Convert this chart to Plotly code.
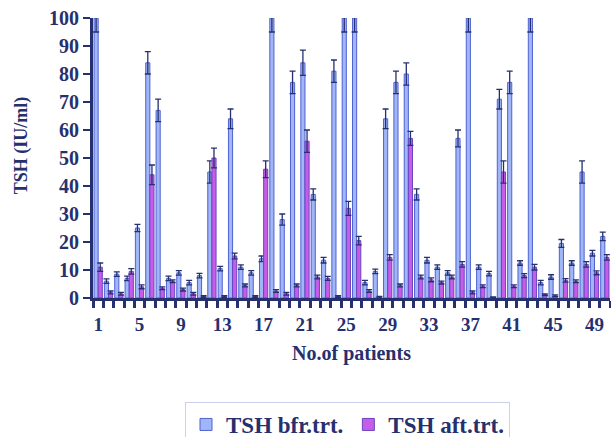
import plotly.graph_objects as go

patients = list(range(1, 51))
tick_labels = [1, 5, 9, 13, 17, 21, 25, 29, 33, 37, 41, 45, 49]

tsh_before = [100, 6, 8.5, 7, 25, 84, 67, 7, 9, 5.5,
              8, 45, 10.5, 64, 11, 9, 14, 100, 28, 77,
              84, 37, 13.5, 81, 100, 100, 5.5, 9.5, 64, 77,
              80, 37, 13.5, 11, 9, 57, 100, 11, 8.7, 71,
              77, 12.5, 100, 5.5, 7.5, 19.5, 12.5, 45, 16, 22]

tsh_after = [11, 2, 1.5, 9.5, 4, 44, 3.5, 6, 3, 1.5,
             0.5, 50, 0.5, 15, 4.5, 0.5, 46, 2.5, 1.5, 4.5,
             56, 7.5, 7, 0.5, 32, 20.5, 2.5, 0.3, 14.5, 4.5,
             57, 7.5, 6.5, 5.5, 7.5, 12, 2, 4.2, 0.2, 45,
             4.2, 8, 11, 1.2, 0.8, 6.3, 6, 12, 9, 14.5]

err_before = [5, 0.8, 0.8, 0.8, 1.3, 4, 4, 0.8, 0.8, 0.8,
              0.8, 4, 0.8, 3.5, 0.8, 0.8, 1, 5, 2, 4,
              4.5, 2, 1, 4, 5, 5, 0.8, 0.8, 3.5, 4,
              4, 2, 1, 0.8, 0.8, 3, 5, 0.8, 0.8, 3.5,
              4, 0.8, 5, 0.8, 0.8, 1.4, 0.8, 4, 1, 1.5]

err_after = [1.5, 0.5, 0.5, 1, 0.7, 3.5, 0.5, 0.5, 0.5, 0.5,
             0.3, 3.5, 0.3, 1, 0.5, 0.3, 3, 0.5, 0.5, 0.5,
             4, 0.7, 0.7, 0.3, 2.5, 1.5, 0.5, 0.3, 1, 0.5,
             2.5, 0.7, 0.7, 0.5, 0.7, 1, 0.5, 0.5, 0.2, 4,
             0.5, 0.7, 1, 0.3, 0.3, 0.6, 0.5, 1, 0.7, 1]

NAVY = "#26306e"
FONT = "Liberation Serif"

fig = go.Figure()
fig.add_trace(go.Bar(
    x=patients, y=tsh_before, name="TSH bfr.trt.",
    marker=dict(color="#a0b6f6", line=dict(color="#4f62d2", width=1)),
    error_y=dict(type="data", array=err_before, visible=True,
                 color=NAVY, thickness=1.3, width=3),
))
fig.add_trace(go.Bar(
    x=patients, y=tsh_after, name="TSH aft.trt.",
    marker=dict(color="#c75ce8", line=dict(color="#6a45c0", width=1)),
    error_y=dict(type="data", array=err_after, visible=True,
                 color=NAVY, thickness=1.3, width=3),
))

fig.update_layout(
    width=611, height=437,
    margin=dict(l=93, r=1, t=18, b=139, autoexpand=False),
    paper_bgcolor="white", plot_bgcolor="white",
    barmode="group", bargap=0.2, bargroupgap=0.0,
    font=dict(family=FONT, color=NAVY, size=19, weight="bold"),
    showlegend=True,
    legend=dict(
        orientation="h", xref="container", yref="container",
        x=185 / 611, xanchor="left", y=(437 - 402) / 437, yanchor="top",
        bordercolor="#c9d2ea", borderwidth=1, bgcolor="white",
        font=dict(family=FONT, size=23, color=NAVY, weight="bold"),
        itemwidth=30,
    ),
    annotations=[dict(
        text="TSH (IU/ml)", xref="paper", yref="paper",
        x=-0.139, y=0.546, xanchor="center", yanchor="middle",
        textangle=-90, showarrow=False,
        font=dict(family=FONT, size=18, color=NAVY, weight="bold"),
    )],
)

fig.update_xaxes(
    range=[0.5, 50.5],
    tickmode="array", tickvals=tick_labels, ticktext=[str(t) for t in tick_labels],
    ticks="", showline=True, linecolor=NAVY, linewidth=3,
    showgrid=False, zeroline=False,
    minor=dict(tick0=0.5, dtick=1, ticks="outside", ticklen=7, tickwidth=2.5,
               tickcolor=NAVY, showgrid=False),
    tickfont=dict(family=FONT, size=19, color=NAVY, weight="bold"),
    ticklabelstandoff=7,
    title=dict(text="No.of patients", standoff=13,
               font=dict(family=FONT, size=20, color=NAVY, weight="bold")),
)

fig.update_yaxes(
    range=[0, 100], tickmode="array", tickvals=list(range(0, 101, 10)),
    ticks="outside", ticklen=7, tickwidth=2, tickcolor=NAVY,
    showline=True, linecolor=NAVY, linewidth=3,
    showgrid=False, zeroline=False,
    tickfont=dict(family=FONT, size=20, color=NAVY, weight="bold"),
)

fig.write_html("out.html")
